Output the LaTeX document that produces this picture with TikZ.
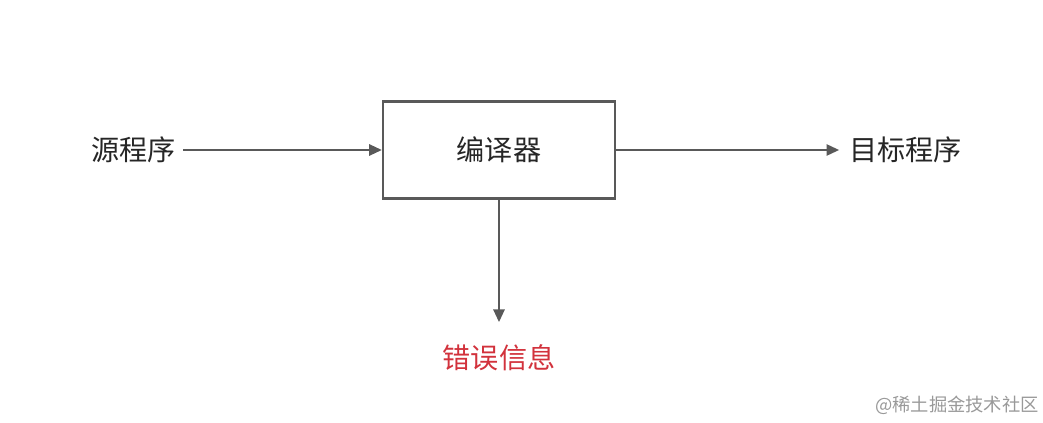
\documentclass[tikz,border=0pt]{standalone}
\usepackage{fontspec}
\setmainfont{Noto Sans CJK SC}
\usepackage{xcolor}
\usetikzlibrary{arrows.meta}
\definecolor{linegray}{HTML}{595959}
\definecolor{errred}{HTML}{D2323C}
\begin{document}
\begin{tikzpicture}[x=0.025cm,y=0.025cm]
        \tikzstyle{word}=[inner sep=0pt, font=\fontsize{20}{24}\selectfont, text=black!85]
        \tikzstyle{flow}=[draw=linegray, line width=1.4pt, -{Triangle[length=9pt,width=8pt]}]
        \useasboundingbox (0,0) rectangle (1043,422);

        % Nodes
        \node[draw=linegray, line width=1.6pt, minimum width=232\pgflinewidth, inner sep=0pt,
              minimum width=5.8cm, minimum height=2.42cm, word] (comp) at (499,272) {编译器};
        \node[word, anchor=east] (src) at (176,272) {源程序};
        \node[word, anchor=west] (dst) at (849,272) {目标程序};
        \node[word, text=errred] (err) at (499,64) {错误信息};
        \node[inner sep=0pt, font=\fontsize{13}{15}\selectfont, text=black!40] (mark) at (957,17) {@稀土掘金技术社区};

        % Edges
        \draw[flow] (src.east) ++(7,0) -- (comp.west);
        \draw[flow] (comp.east) -- ([xshift=-7]dst.west);
        \draw[flow] (comp.south) -- ([yshift=16]err.north);
\end{tikzpicture}
\end{document}
